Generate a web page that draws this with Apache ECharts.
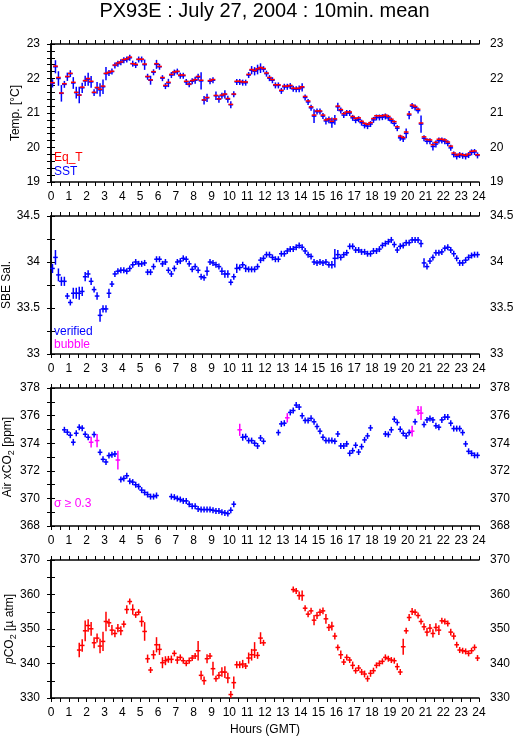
<!DOCTYPE html>
<html>
<head>
<meta charset="utf-8">
<script src="https://cdn.jsdelivr.net/npm/echarts@6/dist/echarts.min.js"></script>
<style>
  html, body { margin: 0; padding: 0; background: #fff; }
  #chart { width: 515px; height: 739px; }
</style>
</head>
<body>
<div id="chart"></div>
<script>
// 10-minute means, index i -> hour (i + 0.5) / 6
const eqT = [
  21.88,22.36,22.03,21.58,21.85,22.06,22.15,21.89,21.60,21.52,21.75,21.94,
  22.00,21.92,21.60,21.74,21.69,21.78,22.15,22.18,22.21,22.39,22.45,22.48,
  22.55,22.57,22.62,22.43,22.41,22.56,22.56,22.42,22.06,21.96,22.20,22.43,
  22.35,22.03,21.80,21.89,22.12,22.19,22.21,22.10,22.10,21.92,21.84,21.94,
  21.97,22.06,21.95,21.38,21.45,21.94,21.97,21.51,21.41,21.52,21.55,21.42,
  21.25,21.55,21.92,21.92,21.90,21.90,22.12,22.26,22.23,22.28,22.32,22.29,
  22.16,22.03,21.97,21.82,21.82,21.66,21.78,21.78,21.80,21.72,21.71,21.72,
  21.76,21.48,21.35,21.18,20.94,21.06,21.06,20.94,20.80,20.83,20.76,20.83,
  21.20,21.10,20.98,21.03,21.03,20.90,20.84,20.86,20.76,20.70,20.67,20.72,
  20.84,20.92,20.92,20.92,20.94,20.90,20.82,20.75,20.60,20.33,20.29,20.45,
  20.97,21.23,21.19,21.11,20.71,20.31,20.23,20.22,20.08,20.15,20.24,20.24,
  20.22,20.16,20.04,19.84,19.78,19.81,19.79,19.77,19.81,19.89,19.90,19.79
];
const sst = [
  21.86,22.34,22.00,21.57,21.83,22.05,22.14,21.87,21.59,21.52,21.73,21.93,
  21.98,21.90,21.59,21.73,21.67,21.76,22.14,22.16,22.20,22.38,22.43,22.47,
  22.53,22.55,22.60,22.43,22.39,22.55,22.55,22.40,22.05,21.95,22.18,22.41,
  22.34,22.01,21.78,21.87,22.10,22.17,22.20,22.08,22.08,21.90,21.83,21.92,
  21.95,22.04,21.93,21.37,21.44,21.92,21.95,21.50,21.40,21.50,21.54,21.40,
  21.24,21.54,21.90,21.90,21.88,21.88,22.10,22.24,22.21,22.26,22.30,22.27,
  22.14,22.01,21.95,21.80,21.80,21.64,21.76,21.76,21.78,21.70,21.69,21.70,
  21.74,21.45,21.32,21.15,20.91,21.04,21.04,20.91,20.77,20.80,20.72,20.80,
  21.18,21.07,20.94,21.00,21.00,20.86,20.79,20.82,20.72,20.64,20.62,20.68,
  20.80,20.87,20.87,20.88,20.90,20.86,20.78,20.70,20.56,20.28,20.25,20.41,
  20.94,21.20,21.16,21.07,20.68,20.27,20.18,20.18,20.03,20.10,20.20,20.20,
  20.18,20.12,19.99,19.80,19.74,19.78,19.76,19.74,19.78,19.86,19.87,19.77
];
const sstSd = [
  0.12,0.19,0.21,0.24,0.10,0.12,0.10,0.17,0.17,0.24,0.15,0.15,
  0.19,0.17,0.10,0.17,0.19,0.21,0.19,0.08,0.06,0.08,0.08,0.06,
  0.06,0.06,0.06,0.06,0.06,0.06,0.06,0.15,0.08,0.13,0.06,0.13,
  0.08,0.06,0.06,0.12,0.06,0.08,0.08,0.06,0.06,0.06,0.08,0.06,
  0.10,0.10,0.25,0.12,0.12,0.06,0.06,0.12,0.10,0.08,0.12,0.10,
  0.10,0.08,0.06,0.06,0.06,0.06,0.06,0.12,0.12,0.14,0.14,0.06,
  0.06,0.06,0.06,0.06,0.06,0.06,0.06,0.06,0.06,0.06,0.06,0.10,
  0.12,0.06,0.06,0.08,0.20,0.06,0.06,0.08,0.10,0.10,0.15,0.14,
  0.12,0.08,0.06,0.06,0.06,0.06,0.06,0.06,0.06,0.06,0.08,0.06,
  0.06,0.06,0.06,0.06,0.06,0.06,0.06,0.06,0.08,0.06,0.06,0.14,
  0.12,0.08,0.06,0.06,0.25,0.06,0.06,0.08,0.12,0.10,0.06,0.06,
  0.06,0.06,0.08,0.06,0.06,0.06,0.06,0.06,0.06,0.06,0.06,0.06
];
const salinity = [
  33.93,34.05,33.86,33.79,33.79,33.63,33.56,33.66,33.66,33.66,33.68,33.84,
  33.87,33.79,33.70,33.63,33.42,33.49,33.49,33.66,33.76,33.87,33.90,33.91,
  33.91,33.90,33.93,33.97,34.00,33.98,33.98,33.99,33.89,33.89,33.95,34.03,
  34.03,33.98,34.00,33.91,33.87,33.93,34.00,34.01,34.04,34.03,33.98,33.92,
  33.95,33.91,33.84,33.83,33.90,34.00,33.99,33.97,33.95,33.90,33.87,33.87,
  33.78,33.84,33.93,33.94,33.97,33.93,33.92,33.92,33.92,33.95,34.02,34.04,
  34.08,34.08,34.05,34.03,34.03,34.09,34.09,34.12,34.14,34.14,34.16,34.18,
  34.16,34.12,34.08,34.06,34.00,33.99,34.00,33.99,34.00,33.97,33.97,34.04,
  34.08,34.05,34.08,34.10,34.17,34.17,34.13,34.13,34.11,34.11,34.09,34.09,
  34.12,34.12,34.14,34.18,34.20,34.22,34.24,34.19,34.13,34.17,34.18,34.21,
  34.21,34.24,34.24,34.24,34.20,33.99,33.95,34.01,34.05,34.10,34.10,34.11,
  34.15,34.16,34.13,34.09,34.04,33.99,33.99,34.02,34.05,34.07,34.08,34.08
];
const salSd = [
  0.05,0.08,0.07,0.05,0.05,0.03,0.03,0.06,0.06,0.07,0.05,0.05,
  0.04,0.04,0.03,0.04,0.07,0.04,0.04,0.05,0.03,0.01,0.01,0.01,
  0.01,0.01,0.01,0.01,0.01,0.01,0.01,0.01,0.02,0.03,0.01,0.02,
  0.02,0.01,0.01,0.03,0.03,0.02,0.01,0.01,0.01,0.01,0.01,0.01,
  0.01,0.03,0.03,0.01,0.05,0.01,0.01,0.01,0.03,0.04,0.04,0.04,
  0.01,0.03,0.05,0.03,0.03,0.04,0.02,0.01,0.01,0.01,0.02,0.02,
  0.01,0.01,0.01,0.01,0.02,0.02,0.01,0.01,0.01,0.01,0.01,0.01,
  0.01,0.01,0.01,0.02,0.03,0.01,0.01,0.01,0.02,0.01,0.04,0.10,
  0.05,0.02,0.01,0.01,0.02,0.01,0.01,0.01,0.01,0.01,0.01,0.01,
  0.01,0.01,0.01,0.01,0.01,0.01,0.01,0.02,0.02,0.02,0.01,0.01,
  0.01,0.01,0.01,0.01,0.04,0.05,0.03,0.02,0.01,0.01,0.01,0.01,
  0.01,0.01,0.02,0.01,0.01,0.01,0.01,0.01,0.01,0.01,0.01,0.01
];
const airCO2 = [
  null,null,null,null,374.97,374.80,374.58,374.07,374.72,375.16,375.09,374.65,
  374.43,374.07,374.63,374.19,373.34,372.83,372.64,373.10,373.17,373.22,372.78,371.37,
  371.45,371.64,371.25,371.18,370.99,370.86,370.60,370.43,370.28,370.13,370.13,370.21,
  null,null,null,null,370.13,370.09,369.99,369.92,369.82,369.82,369.58,369.43,
  369.43,369.24,369.19,369.19,369.19,369.19,369.14,369.09,369.09,369.00,368.95,368.90,
  369.14,369.58,null,374.97,374.43,374.48,374.19,374.19,374.00,373.80,374.38,374.14,
  null,null,null,null,374.77,375.40,375.45,375.84,376.23,376.37,376.76,376.62,
  375.99,375.65,375.65,375.80,375.55,375.21,374.87,374.43,374.19,374.19,374.19,374.14,
  374.67,373.80,373.80,373.95,373.27,373.46,373.85,373.36,373.75,374.24,374.53,375.11,
  null,null,null,null,374.67,374.63,374.97,375.74,375.50,375.01,374.72,374.53,
  374.77,374.87,375.55,376.37,376.18,375.35,375.69,375.79,375.69,375.26,375.16,375.69,
  375.89,375.89,375.45,375.06,375.06,375.06,374.77,373.95,373.41,373.27,373.12,373.12
];
const airSd = [
  0,0,0,0,0.10,0.08,0.08,0.24,0.12,0.08,0.08,0.08,
  0.10,0.39,0.10,0.48,0.08,0.15,0.08,0.10,0.08,0.08,0.68,0.10,
  0.10,0.12,0.06,0.06,0.06,0.06,0.08,0.08,0.06,0.06,0.06,0.05,
  0,0,0,0,0.05,0.05,0.05,0.05,0.05,0.05,0.08,0.05,
  0.05,0.05,0.05,0.05,0.05,0.05,0.05,0.05,0.05,0.05,0.05,0.05,
  0.12,0.20,0,0.44,0.25,0.20,0.15,0.15,0.10,0.10,0.20,0.15,
  0,0,0,0,0.20,0.20,0.15,0.34,0.08,0.08,0.10,0.10,
  0.08,0.06,0.06,0.10,0.08,0.10,0.10,0.10,0.06,0.06,0.10,0.10,
  0.15,0.06,0.06,0.08,0.06,0.12,0.10,0.10,0.15,0.08,0.15,0.20,
  0,0,0,0,0.15,0.15,0.20,0.20,0.20,0.06,0.10,0.10,
  0.10,0.39,0.06,0.32,0.50,0.08,0.06,0.06,0.06,0.12,0.12,0.10,
  0.06,0.06,0.15,0.06,0.06,0.06,0.10,0.20,0.10,0.06,0.06,0.06
];
const pCO2 = [
  null,null,null,null,null,null,null,null,null,343.90,345.24,349.48,
  351.00,350.06,346.00,347.36,345.05,346.40,352.18,351.80,349.67,348.70,350.25,349.48,
  351.40,355.65,357.96,355.65,354.10,354.87,352.18,349.29,341.39,338.11,342.54,345.43,
  344.09,340.23,340.81,341.20,341.20,342.93,341.00,341.77,340.81,340.04,340.81,341.58,
  342.16,343.70,336.57,335.03,341.39,342.16,338.50,335.61,336.57,337.53,337.50,335.80,
  331.00,334.45,339.65,339.65,339.85,339.27,341.58,342.54,343.90,342.35,347.36,346.00,
  null,null,null,null,null,null,null,null,null,361.43,361.04,359.69,
  359.69,356.03,354.30,355.26,352.56,353.91,354.87,355.26,352.95,350.44,350.83,347.94,
  344.66,342.54,340.42,341.77,341.00,339.46,337.92,338.69,337.53,336.95,335.61,337.15,
  337.92,339.46,340.04,340.62,341.77,341.39,341.00,340.81,339.08,337.53,344.86,349.48,
  353.33,355.07,354.87,353.91,352.18,350.64,349.10,350.25,348.71,350.44,349.67,352.37,
  352.18,351.60,349.10,347.94,345.43,343.90,343.70,343.50,342.93,343.70,344.66,341.58
];
const pSd = [
  0,0,0,0,0,0,0,0,0,2.1,1.8,3.0,
  1.8,2.0,1.6,1.3,2.1,2.8,2.8,1.2,1.5,1.1,1.2,1.3,
  1.0,1.2,0.6,1.5,0.6,0.5,1.5,2.7,1.2,0.8,1.3,2.2,
  1.6,1.6,1.3,1.0,1.1,0.8,1.1,0.6,0.7,0.7,0.9,0.6,
  0.6,2.8,1.3,1.2,1.3,0.6,2.0,0.8,1.0,1.4,1.7,1.5,
  1.0,1.8,1.0,1.0,1.2,0.8,1.6,1.7,2.3,1.0,1.7,0.7,
  0,0,0,0,0,0,0,0,0,0.5,0.5,1.2,
  1.5,0.6,0.6,0.5,1.5,1.0,1.0,1.0,1.4,1.0,1.3,1.0,
  0.7,1.2,0.5,0.8,0.6,1.1,0.6,0.6,0.9,1.0,0.9,1.0,
  0.6,0.5,0.5,0.7,0.6,0.5,0.5,0.5,1.0,0.6,2.3,0.7,
  1.0,1.0,0.8,0.5,0.8,1.0,1.2,1.2,1.2,1.2,1.4,0.5,
  0.5,0.7,1.0,1.0,0.5,0.6,0.6,0.6,0.6,0.6,0.8,0.8
];

const FONT = '"Liberation Sans", Arial, Helvetica, sans-serif';
const BLUE = '#0000ff', RED = '#ff0000', MAGENTA = '#ff00ff';
const panelTops = [44, 216, 388, 560];
const HALF = 0.13;   // half width of the 10-min dash, hours
const MARK_W = 1.5;
const MIN_ARM = 3;   // px, smallest half height of the "+"

const chart = echarts.init(document.getElementById('chart'));

function toItems(values, sds) {
  const out = [];
  values.forEach(function (v, i) {
    if (v !== null) out.push([(i + 0.5) / 6, v, sds ? sds[i] : 0]);
  });
  return out;
}

// "+" marker: 10-min horizontal dash, vertical bar = standard deviation
function plusRenderer(colorFor, withBar) {
  return function (params, api) {
    const t = api.value(0), v = api.value(1), sd = api.value(2);
    const c = api.coord([t, v]);
    const x1 = api.coord([t - HALF, v])[0], x2 = api.coord([t + HALF, v])[0];
    const color = colorFor(sd);
    const kids = [{
      type: 'line', shape: {x1: x1, y1: c[1], x2: x2, y2: c[1]},
      style: {stroke: color, lineWidth: MARK_W}
    }];
    if (withBar) {
      const span = Math.abs(api.coord([t, v - sd])[1] - api.coord([t, v + sd])[1]) / 2;
      const h = Math.max(MIN_ARM, span);
      kids.push({
        type: 'line', shape: {x1: c[0], y1: c[1] - h, x2: c[0], y2: c[1] + h},
        style: {stroke: color, lineWidth: MARK_W}
      });
    }
    return {type: 'group', children: kids};
  };
}

function xAxesFor(i) {
  const base = {
    gridIndex: i, type: 'value', min: 0, max: 24, interval: 1,
    axisLine: {show: true, onZero: false, lineStyle: {color: '#000', width: 1.5}},
    axisTick: {show: true, length: 4, lineStyle: {color: '#000'}},
    minorTick: {show: true, splitNumber: 2, length: 4, lineStyle: {color: '#000'}},
    splitLine: {show: false}
  };
  const bottom = Object.assign({}, base, {
    position: 'bottom',
    axisLabel: {show: true, color: '#000', fontSize: 12, fontFamily: FONT, margin: 9, hideOverlap: false}
  });
  if (i === 3) {
    bottom.name = 'Hours (GMT)';
    bottom.nameLocation = 'middle';
    bottom.nameGap = 26;
    bottom.nameTextStyle = {color: '#000', fontSize: 12, fontFamily: FONT};
  }
  const top = Object.assign({}, base, {position: 'top', axisLabel: {show: false}});
  return [bottom, top];
}

function yAxesFor(i, min, max, interval, minorSplit, name, nameGap, rich) {
  const base = {
    gridIndex: i, type: 'value', min: min, max: max, interval: interval,
    axisLine: {show: true, lineStyle: {color: '#000', width: 1.5}},
    axisTick: {show: true, length: 4, lineStyle: {color: '#000'}},
    minorTick: {show: true, splitNumber: minorSplit, length: 4, lineStyle: {color: '#000'}},
    splitLine: {show: false},
    axisLabel: {color: '#000', fontSize: 12, fontFamily: FONT, margin: 11}
  };
  const left = Object.assign({}, base, {
    position: 'left', name: name, nameLocation: 'middle', nameGap: nameGap,
    nameMoveOverlap: false,
    nameTextStyle: {color: '#000', fontSize: 12, fontFamily: FONT, rich: rich}
  });
  const right = Object.assign({}, base, {position: 'right'});
  return [left, right];
}

const richName = {
  n: {fontSize: 12, fontFamily: FONT, color: '#000', lineHeight: 16},
  i: {fontSize: 12, fontFamily: FONT, color: '#000', fontStyle: 'italic', lineHeight: 16},
  s: {fontSize: 9, fontFamily: FONT, color: '#000', lineHeight: 9, verticalAlign: 'bottom'}
};

const grids = panelTops.map(function (t) {
  return {left: 51, top: t, width: 428, height: 138, outerBoundsMode: 'none', containLabel: false};
});

const xAxis = [].concat(xAxesFor(0), xAxesFor(1), xAxesFor(2), xAxesFor(3));
const yAxis = [].concat(
  yAxesFor(0, 19, 23, 1, 5, 'Temp. [°C]', 29, richName),
  yAxesFor(1, 33, 34.5, 0.5, 2, 'SBE Sal.', 38, richName),
  yAxesFor(2, 368, 378, 2, 2, '{n|Air xCO}{s|2}{n| [ppm]}', 35, richName),
  yAxesFor(3, 330, 370, 10, 2, '{i|p}{n|CO}{s|2}{n| [µ atm]}', 33, richName)
);

function legendText(x, y, text, color) {
  return {
    type: 'text', x: x, y: y, silent: true,
    style: {text: text, fill: color, font: '12px ' + FONT, verticalAlign: 'middle', align: 'left'}
  };
}

chart.setOption({
  animation: false,
  backgroundColor: '#fff',
  grid: grids,
  xAxis: xAxis,
  yAxis: yAxis,
  graphic: [
    {type: 'text', x: 264.5, y: 1, silent: true,
     style: {text: 'PX93E : July 27, 2004 : 10min. mean', fill: '#000',
             font: '20px ' + FONT, align: 'center', verticalAlign: 'top'}},
    legendText(54, 158, 'Eq_T', RED),
    legendText(54, 172, 'SST', BLUE),
    legendText(54, 332, 'verified', BLUE),
    legendText(54, 345, 'bubble', MAGENTA),
    legendText(54, 504, 'σ ≥ 0.3', MAGENTA)
  ],
  series: [
    {type: 'custom', name: 'SST', xAxisIndex: 0, yAxisIndex: 0, silent: true,
     data: toItems(sst, sstSd), renderItem: plusRenderer(function () { return BLUE; }, true)},
    {type: 'custom', name: 'Eq_T', xAxisIndex: 0, yAxisIndex: 0, silent: true,
     data: toItems(eqT, null), renderItem: plusRenderer(function () { return RED; }, false)},
    {type: 'custom', name: 'SBE Sal.', xAxisIndex: 2, yAxisIndex: 2, silent: true,
     data: toItems(salinity, salSd), renderItem: plusRenderer(function () { return BLUE; }, true)},
    {type: 'custom', name: 'Air xCO2', xAxisIndex: 4, yAxisIndex: 4, silent: true,
     data: toItems(airCO2, airSd),
     renderItem: plusRenderer(function (sd) { return sd >= 0.3 ? MAGENTA : BLUE; }, true)},
    {type: 'custom', name: 'pCO2', xAxisIndex: 6, yAxisIndex: 6, silent: true,
     data: toItems(pCO2, pSd), renderItem: plusRenderer(function () { return RED; }, true)}
  ]
});
</script>
</body>
</html>
